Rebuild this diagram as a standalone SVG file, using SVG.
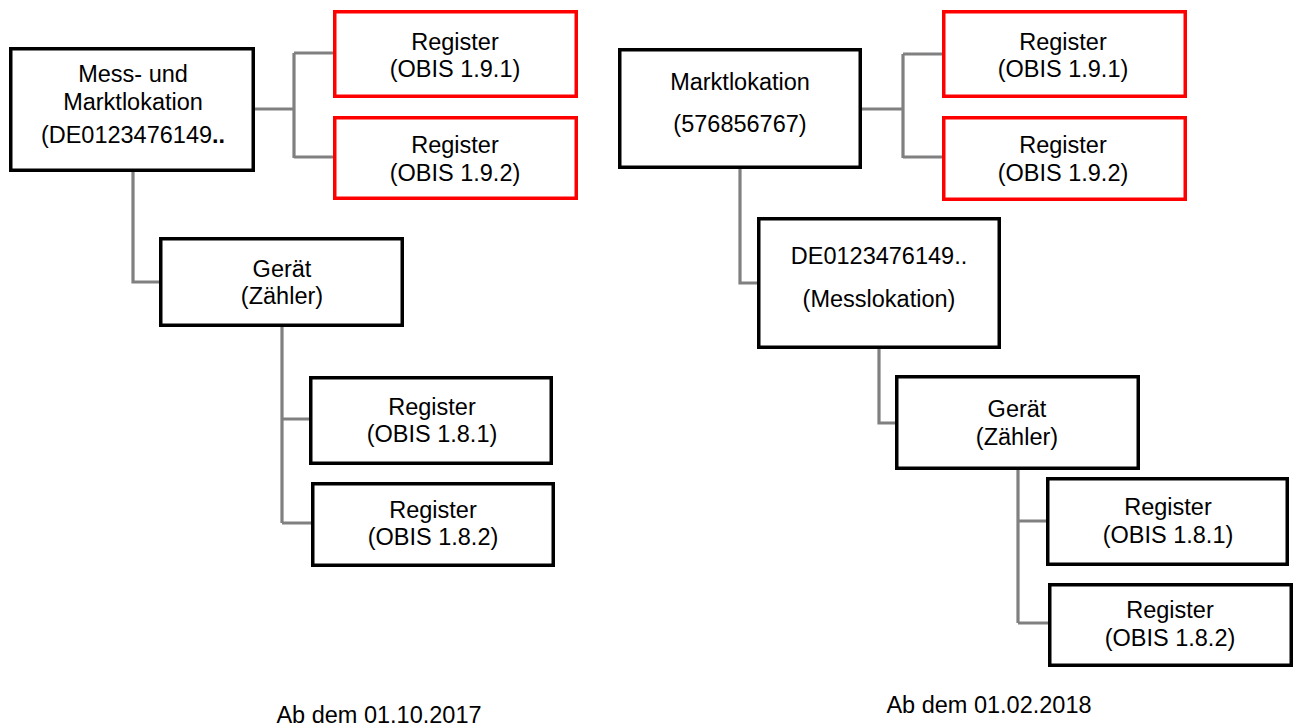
<svg xmlns="http://www.w3.org/2000/svg" width="1297" height="727" viewBox="0 0 1297 727">
<style>
.box{fill:#fff;stroke:#000;stroke-width:3.5}
.red{fill:#fff;stroke:#ff0000;stroke-width:3.5}
.con{fill:none;stroke:#808080;stroke-width:3.2}
text{font-family:"Liberation Sans",Arial,sans-serif;font-size:23.5px;fill:#000;text-anchor:middle}
</style>
<rect width="1297" height="727" fill="#fff"/>
<g id="connectors">
<path class="con" d="M255,109H294M294,53V158M294,53H334M294,157H334"/>
<path class="con" d="M133,172V282H160"/>
<path class="con" d="M282,327V523M282,419H310M282,523H312"/>
<path class="con" d="M862,109H903M903,54V158M903,54H943M903,157H943"/>
<path class="con" d="M740,169V283H757"/>
<path class="con" d="M879,349V423H895"/>
<path class="con" d="M1018,470V623M1018,521H1046M1018,623H1048"/>
</g>
<g id="n_left_main">
<rect class="box" x="10.75" y="48.75" width="242.5" height="121.5"/>
<text x="133" y="82">Mess- und</text>
<text x="133" y="110">Marktlokation</text>
<text x="133" y="143">(DE0123476149<tspan font-weight="bold">..</tspan></text>
</g>
<g id="n_left_r191">
<rect class="red" x="334.75" y="11.75" width="241.5" height="84.5"/>
<text x="455" y="50">Register</text>
<text x="455" y="77">(OBIS 1.9.1)</text>
</g>
<g id="n_left_r192">
<rect class="red" x="334.75" y="117.75" width="241.5" height="80.5"/>
<text x="455" y="153">Register</text>
<text x="455" y="181">(OBIS 1.9.2)</text>
</g>
<g id="n_left_geraet">
<rect class="box" x="160.75" y="238.75" width="241.5" height="86.5"/>
<text x="282" y="277">Gerät</text>
<text x="282" y="304">(Zähler)</text>
</g>
<g id="n_left_r181">
<rect class="box" x="310.75" y="377.75" width="240.5" height="85.5"/>
<text x="432" y="415">Register</text>
<text x="432" y="442">(OBIS 1.8.1)</text>
</g>
<g id="n_left_r182">
<rect class="box" x="312.75" y="483.75" width="240.5" height="81.5"/>
<text x="433" y="518">Register</text>
<text x="433" y="545">(OBIS 1.8.2)</text>
</g>
<g id="n_right_markt">
<rect class="box" x="619.75" y="49.75" width="240.5" height="117.5"/>
<text x="740" y="90">Marktlokation</text>
<text x="740" y="132">(576856767)</text>
</g>
<g id="n_right_r191">
<rect class="red" x="943.75" y="11.75" width="241.5" height="84.5"/>
<text x="1063" y="50">Register</text>
<text x="1063" y="77">(OBIS 1.9.1)</text>
</g>
<g id="n_right_r192">
<rect class="red" x="943.75" y="117.75" width="241.5" height="81.5"/>
<text x="1063" y="153">Register</text>
<text x="1063" y="181">(OBIS 1.9.2)</text>
</g>
<g id="n_right_mess">
<rect class="box" x="758.75" y="218.75" width="240.5" height="128.5"/>
<text x="879" y="264">DE0123476149..</text>
<text x="879" y="307">(Messlokation)</text>
</g>
<g id="n_right_geraet">
<rect class="box" x="896.75" y="376.75" width="241.5" height="91.5"/>
<text x="1017" y="417">Gerät</text>
<text x="1017" y="445">(Zähler)</text>
</g>
<g id="n_right_r181">
<rect class="box" x="1047.75" y="478.75" width="239.5" height="85.5"/>
<text x="1168" y="515">Register</text>
<text x="1168" y="543">(OBIS 1.8.1)</text>
</g>
<g id="n_right_r182">
<rect class="box" x="1049.75" y="584.75" width="241.5" height="80.5"/>
<text x="1170" y="618">Register</text>
<text x="1170" y="646">(OBIS 1.8.2)</text>
</g>
<g id="labels">
<text x="379" y="723">Ab dem 01.10.2017</text>
<text x="989" y="713">Ab dem 01.02.2018</text>
</g>
</svg>
